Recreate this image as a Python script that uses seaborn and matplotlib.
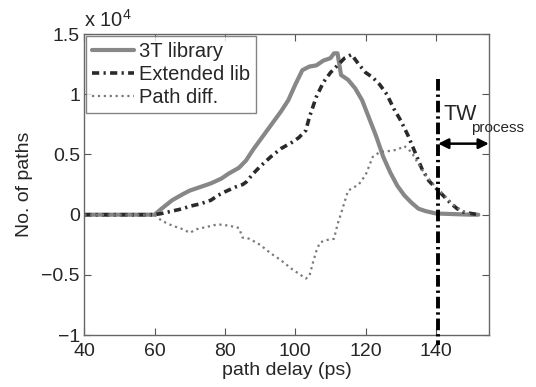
import numpy as np
import pandas as pd
import matplotlib
matplotlib.use("Agg")
import matplotlib.pyplot as plt
import seaborn as sns

# Path-delay histograms (counts in units of 1e4)
lib3t_delay = [40, 45, 50, 55, 60, 62, 65, 68, 70, 73, 76, 79, 81, 84, 86, 88, 90, 92, 94, 96,
               98, 100, 102, 104, 106, 108, 110, 111, 112, 113, 115, 117, 119, 121, 123, 125,
               127, 129, 131, 133, 135, 137, 140, 145, 150, 152]
lib3t_paths = [0, 0, 0, 0, 0, 0.05, 0.12, 0.17, 0.20, 0.23, 0.26, 0.30, 0.34, 0.39, 0.45, 0.54,
               0.62, 0.70, 0.78, 0.86, 0.95, 1.08, 1.20, 1.23, 1.24, 1.28, 1.30, 1.34, 1.34, 1.16,
               1.12, 1.05, 0.95, 0.80, 0.65, 0.48, 0.35, 0.24, 0.16, 0.10, 0.05, 0.03, 0.01,
               0.005, 0, 0]

ext_delay = [40, 50, 60, 62, 65, 68, 70, 73, 76, 78, 80, 83, 85, 86, 88, 90, 93, 96, 99, 101,
             103, 104, 106, 108, 110, 112, 114, 116, 118, 120, 122, 124, 126, 128, 130, 132,
             134, 136, 138, 140, 142, 144, 146, 148, 150, 152]
ext_paths = [0, 0, 0, 0.01, 0.03, 0.05, 0.07, 0.09, 0.12, 0.16, 0.19, 0.23, 0.25, 0.27, 0.34,
             0.40, 0.48, 0.55, 0.60, 0.64, 0.70, 0.81, 0.98, 1.10, 1.18, 1.24, 1.30, 1.33, 1.25,
             1.18, 1.14, 1.08, 1.00, 0.88, 0.78, 0.66, 0.52, 0.38, 0.28, 0.22, 0.16, 0.10, 0.05,
             0.02, 0.01, 0]

diff_delay = [40, 50, 60, 62, 65, 68, 70, 72, 75, 78, 81, 84, 85, 87, 90, 93, 96, 99, 101, 103,
              104, 105, 106, 107, 109, 111, 112, 113, 115, 118, 120, 122, 124, 127, 129, 131,
              133, 135, 137, 139, 141, 143, 145, 147, 149, 150]
diff_paths = [0, 0, 0, -0.05, -0.09, -0.12, -0.15, -0.12, -0.10, -0.08, -0.09, -0.11, -0.19,
              -0.20, -0.25, -0.32, -0.38, -0.45, -0.49, -0.53, -0.51, -0.40, -0.30, -0.23, -0.21,
              -0.20, -0.08, 0.01, 0.20, 0.25, 0.33, 0.48, 0.52, 0.53, 0.54, 0.57, 0.52, 0.42,
              0.33, 0.26, 0.20, 0.14, 0.08, 0.04, 0.01, 0]

labels = ["3T library", "Extended lib", "Path diff."]
x_ticks = [40, 60, 80, 100, 120, 140]
y_ticks = [-1, -0.5, 0, 0.5, 1, 1.5]
y_tick_labels = ["\u22121", "\u22120.5", "0", "0.5", "1", "1.5"]
tw_delay = 140.6

sns.set_style("ticks")
plt.rcParams["font.family"] = ["Liberation Sans", "DejaVu Sans"]
plt.rcParams["mathtext.fontset"] = "custom"
plt.rcParams["mathtext.rm"] = "Liberation Sans"

fig = plt.figure(figsize=(5.36, 3.87), dpi=100)
ax = fig.add_axes([0.157, 0.134, 0.755, 0.778])

df3 = pd.DataFrame({"delay": lib3t_delay, "paths": lib3t_paths})
dfe = pd.DataFrame({"delay": ext_delay, "paths": ext_paths})
dfd = pd.DataFrame({"delay": diff_delay, "paths": diff_paths})

sns.lineplot(data=df3, x="delay", y="paths", ax=ax, color="#878787", lw=3.0,
             label=labels[0], estimator=None, sort=False)
sns.lineplot(data=dfe, x="delay", y="paths", ax=ax, color="#2a2a2a", lw=2.6,
             dashes=False, label=labels[1], estimator=None, sort=False)
sns.lineplot(data=dfd, x="delay", y="paths", ax=ax, color="#7a7a7a", lw=1.6,
             linestyle=":", label=labels[2], estimator=None, sort=False)
ax.lines[1].set_dashes([2.0, 1.2, 0.6, 1.2])

# Time-window boundary and arrow
ax.plot([tw_delay, tw_delay], [1.13, -1.08], color="black", lw=2.8,
        dashes=[3.0, 1.0, 0.6, 1.0], clip_on=False, zorder=5)
ax.annotate("", xy=(155, 0.59), xytext=(tw_delay, 0.59),
            arrowprops=dict(arrowstyle="<|-|>", color="black", lw=1.8,
                            mutation_scale=15, shrinkA=0, shrinkB=0),
            annotation_clip=False)
ax.text(142.2, 0.83, "TW", fontsize=15.5, va="center", ha="left")
ax.text(150.0, 0.72, "process", fontsize=11, va="center", ha="left", clip_on=False)

ax.set_xlim(40, 155)
ax.set_ylim(-1, 1.5)
ax.set_xticks(x_ticks)
ax.set_yticks(y_ticks)
ax.set_yticklabels(y_tick_labels)
ax.tick_params(direction="in", top=True, right=True, length=5, width=0.8,
               labelsize=14, color="#555555")
ax.tick_params(axis="x", pad=6)
ax.tick_params(axis="y", pad=3)
for s in ax.spines.values():
    s.set_color("#666666")
    s.set_linewidth(1.0)

ax.set_xlabel("path delay (ps)", fontsize=14, labelpad=1)
ax.set_ylabel("No. of paths", fontsize=14, labelpad=6)
ax.text(0.0, 1.01, "x 10$^{4}$", transform=ax.transAxes, fontsize=14.5,
        ha="left", va="bottom")

leg = ax.legend(loc="upper left", fontsize=14.5, frameon=True, fancybox=False,
                borderaxespad=0.1, handlelength=2.1, labelspacing=0.2,
                handletextpad=0.2, borderpad=0.3)
leg.get_frame().set_edgecolor("#666666")
leg.get_frame().set_linewidth(1.0)

fig.savefig("out.png", dpi=100)
